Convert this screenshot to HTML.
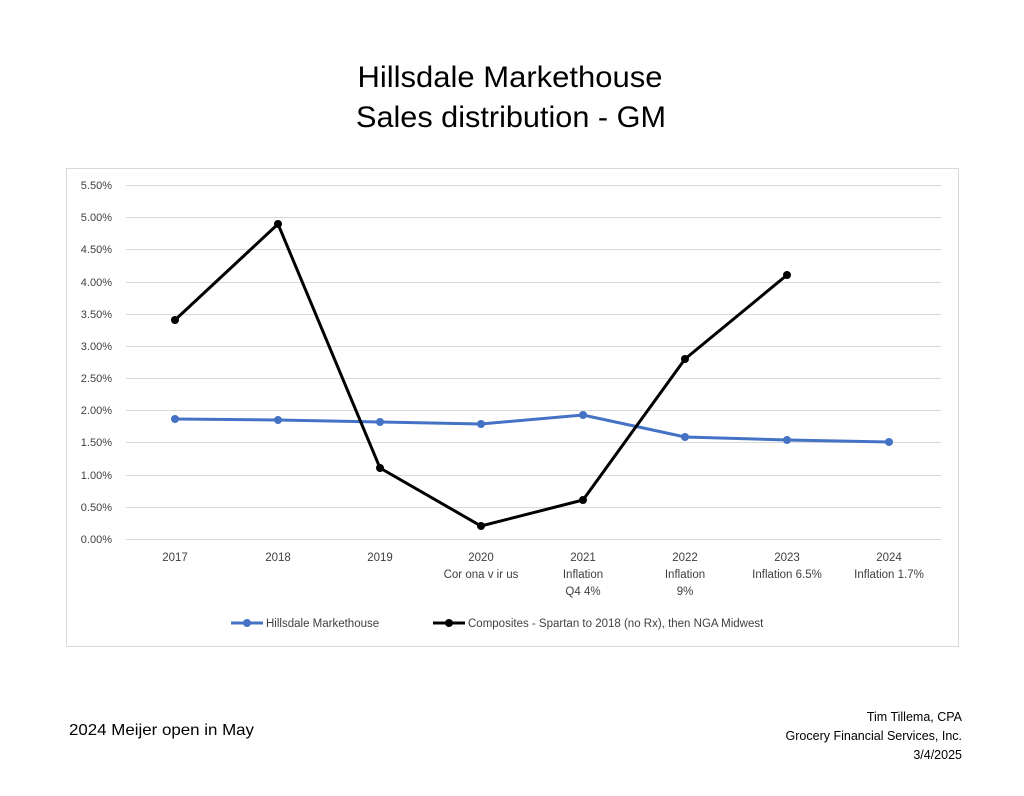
<!DOCTYPE html>
<html><head><style>
body{margin:0;background:#fff;width:1024px;height:791px;overflow:hidden;font-family:"Liberation Sans",sans-serif;}
</style></head><body>
<svg width="1024" height="791" xmlns="http://www.w3.org/2000/svg" font-family="Liberation Sans, sans-serif">
<text x="510" y="87" font-size="30" text-anchor="middle" fill="#000" textLength="305" lengthAdjust="spacingAndGlyphs">Hillsdale Markethouse</text>
<text x="511" y="127" font-size="30" text-anchor="middle" fill="#000" textLength="310" lengthAdjust="spacingAndGlyphs">Sales distribution - GM</text>
<rect x="66.5" y="168.5" width="892" height="478" fill="none" stroke="#d9d9d9"/>
<g stroke="#d9d9d9" stroke-width="1">
<line x1="126" x2="941" y1="185.5" y2="185.5"/><line x1="126" x2="941" y1="217.5" y2="217.5"/>
<line x1="126" x2="941" y1="249.5" y2="249.5"/><line x1="126" x2="941" y1="282.5" y2="282.5"/>
<line x1="126" x2="941" y1="314.5" y2="314.5"/><line x1="126" x2="941" y1="346.5" y2="346.5"/>
<line x1="126" x2="941" y1="378.5" y2="378.5"/><line x1="126" x2="941" y1="410.5" y2="410.5"/>
<line x1="126" x2="941" y1="442.5" y2="442.5"/><line x1="126" x2="941" y1="475.5" y2="475.5"/>
<line x1="126" x2="941" y1="507.5" y2="507.5"/><line x1="126" x2="941" y1="539.5" y2="539.5"/>
</g>
<g font-size="11" fill="#404040" text-anchor="end">
<text x="112" y="189">5.50%</text><text x="112" y="221">5.00%</text><text x="112" y="253">4.50%</text>
<text x="112" y="286">4.00%</text><text x="112" y="318">3.50%</text><text x="112" y="350">3.00%</text>
<text x="112" y="382">2.50%</text><text x="112" y="414">2.00%</text><text x="112" y="446">1.50%</text>
<text x="112" y="479">1.00%</text><text x="112" y="511">0.50%</text><text x="112" y="543">0.00%</text>
</g>
<g font-size="11.5" fill="#404040" text-anchor="middle">
<text x="175" y="561">2017</text><text x="278" y="561">2018</text><text x="380" y="561">2019</text>
<text x="481" y="561">2020</text><text x="481" y="578">Cor ona v ir us</text>
<text x="583" y="561">2021</text><text x="583" y="578">Inflation</text><text x="583" y="595">Q4 4%</text>
<text x="685" y="561">2022</text><text x="685" y="578">Inflation</text><text x="685" y="595">9%</text>
<text x="787" y="561">2023</text><text x="787" y="578">Inflation 6.5%</text>
<text x="889" y="561">2024</text><text x="889" y="578">Inflation 1.7%</text>
</g>
<polyline fill="none" stroke="#4472c4" stroke-width="3" points="175,419 278,420 380,422 481,424 583,415 685,437 787,440 889,442"/>
<g fill="#4472c4"><circle cx="175" cy="419" r="4"/><circle cx="278" cy="420" r="4"/><circle cx="380" cy="422" r="4"/><circle cx="481" cy="424" r="4"/><circle cx="583" cy="415" r="4"/><circle cx="685" cy="437" r="4"/><circle cx="787" cy="440" r="4"/><circle cx="889" cy="442" r="4"/></g>
<polyline fill="none" stroke="#000" stroke-width="3" points="175,320 278,224 380,468 481,526 583,500 685,359 787,275"/>
<g fill="#000"><circle cx="175" cy="320" r="4"/><circle cx="278" cy="224" r="4"/><circle cx="380" cy="468" r="4"/><circle cx="481" cy="526" r="4"/><circle cx="583" cy="500" r="4"/><circle cx="685" cy="359" r="4"/><circle cx="787" cy="275" r="4"/></g>
<line x1="231" x2="263" y1="623" y2="623" stroke="#4472c4" stroke-width="3"/><circle cx="247" cy="623" r="4" fill="#4472c4"/>
<text x="266" y="627" font-size="11.5" fill="#404040">Hillsdale Markethouse</text>
<line x1="433" x2="465" y1="623" y2="623" stroke="#000" stroke-width="3"/><circle cx="449" cy="623" r="4" fill="#000"/>
<text x="468" y="627" font-size="11.5" fill="#404040">Composites - Spartan to 2018 (no Rx), then NGA Midwest</text>
<text x="69" y="735" font-size="16" fill="#000" textLength="185" lengthAdjust="spacingAndGlyphs">2024 Meijer open in May</text>
<g font-size="12.5" fill="#000" text-anchor="end">
<text x="962" y="721">Tim Tillema, CPA</text>
<text x="962" y="740">Grocery Financial Services, Inc.</text>
<text x="962" y="759">3/4/2025</text>
</g>
</svg>
</body></html>
